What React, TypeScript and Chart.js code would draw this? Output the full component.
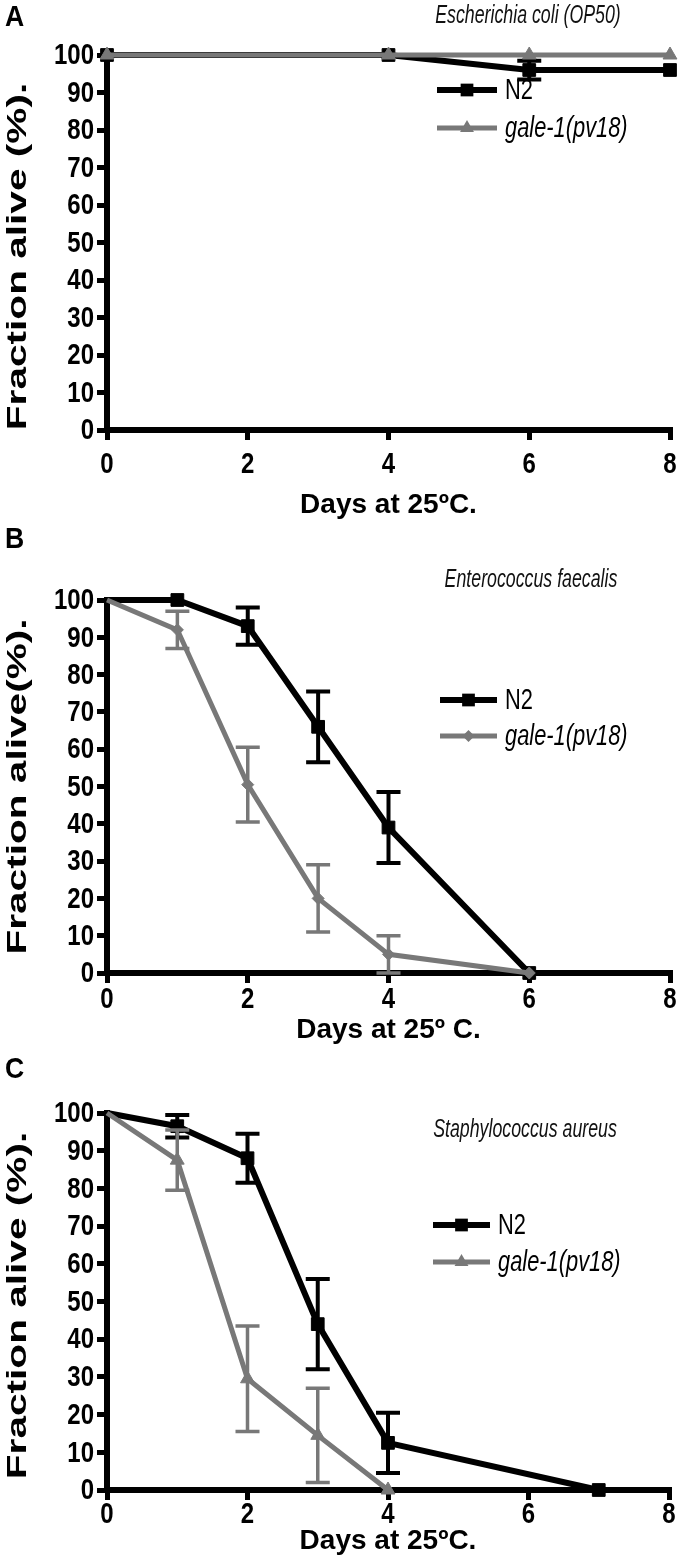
import React, { useEffect, useRef } from "react";
import { Chart, registerables } from "chart.js";

Chart.register(...registerables);

// ---------- shared axis / text ----------
const dayTicksMin = 0;
const dayTicksMax = 8;
const dayTickStep = 2;
const yMin = 0;
const yMax = 100;
const yStep = 10;
const legendLabels = ["N2", "gale-1(pv18)"];

// ---------- Panel A : Escherichia coli (OP50) ----------
const aLetter = "A";
const aTitle = "Escherichia coli (OP50)";
const aXTitle = "Days at 25ºC.";
const aYTitle = "Fraction alive (%).";
const aN2Days = [0, 4, 6, 8];
const aN2 = [100, 100, 96, 96];
const aN2Err = [0, 0, 2.5, 0];
const aGaleDays = [0, 4, 6, 8];
const aGale = [100, 100, 100, 100];
const aGaleErr = [0, 0, 0, 0];

// ---------- Panel B : Enterococcus faecalis ----------
const bLetter = "B";
const bTitle = "Enterococcus faecalis";
const bXTitle = "Days at 25º C.";
const bYTitle = "Fraction alive(%).";
const bN2Days = [0, 1, 2, 3, 4, 6];
const bN2 = [100, 100, 93, 66, 39, 0];
const bN2Err = [0, 0, 5, 9.5, 9.5, 0];
const bGaleDays = [0, 1, 2, 3, 4, 6];
const bGale = [100, 92, 50.5, 20, 5, 0];
const bGaleErr = [0, 5, 10, 9, 5, 0];

// ---------- Panel C : Staphylococcus aureus ----------
const cLetter = "C";
const cTitle = "Staphylococcus aureus";
const cXTitle = "Days at 25ºC.";
const cYTitle = "Fraction alive (%).";
const cN2Days = [0, 1, 2, 3, 4, 7];
const cN2 = [100, 96.5, 88, 44, 12.5, 0];
const cN2Err = [0, 3, 6.5, 12, 8, 0];
const cGaleDays = [0, 1, 2, 3, 4];
const cGale = [100, 87.5, 29.5, 14.5, 0];
const cGaleErr = [0, 8, 14, 12.5, 0];

const FONT = "'Liberation Sans', Arial, Helvetica, sans-serif";
const BLACK = "#000000";
const GRAY = "#787878";

function drawMarker(ctx: CanvasRenderingContext2D, style: string, r: number, x: number, y: number) {
  ctx.beginPath();
  if (style === "rect") {
    const s = Math.SQRT1_2 * r;
    ctx.rect(x - s, y - s, 2 * s, 2 * s);
  } else if (style === "rectRot") {
    ctx.moveTo(x, y - r);
    ctx.lineTo(x + r, y);
    ctx.lineTo(x, y + r);
    ctx.lineTo(x - r, y);
    ctx.closePath();
  } else {
    const h = (r * 3) / Math.sqrt(3);
    ctx.moveTo(x, y - r);
    ctx.lineTo(x + h / 2, y + r / 2);
    ctx.lineTo(x - h / 2, y + r / 2);
    ctx.closePath();
  }
  ctx.fill();
}

// text drawn with an independent horizontal / vertical scale (figure lettering is condensed)
function scaledText(
  ctx: CanvasRenderingContext2D,
  text: string,
  x: number,
  y: number,
  sx: number,
  sy: number,
  align: CanvasTextAlign
) {
  ctx.save();
  ctx.translate(x, y);
  ctx.scale(sx, sy);
  ctx.textAlign = align;
  ctx.textBaseline = "middle";
  ctx.fillText(text, 0, 0);
  ctx.restore();
}

// ---------- plugins ----------
const errorBarPlugin = {
  id: "errorBars",
  afterDatasetDraw(chart: any, args: any) {
    const ds = chart.data.datasets[args.index];
    const errs: number[] | undefined = ds.errors;
    if (!errs) return;
    const xs = chart.scales.x;
    const ys = chart.scales.y;
    const ctx = chart.ctx;
    ctx.save();
    ctx.strokeStyle = ds.borderColor;
    ctx.lineWidth = ds.errorWidth || 3;
    ctx.lineCap = "butt";
    const cap = ds.capHalf || 11;
    ds.data.forEach((p: any, i: number) => {
      const e = errs[i];
      if (!e) return;
      const x = xs.getPixelForValue(p.x);
      const yHi = ys.getPixelForValue(p.y + e);
      const yLo = ys.getPixelForValue(Math.max(p.y - e, yMin));
      ctx.beginPath();
      ctx.moveTo(x, yHi);
      ctx.lineTo(x, yLo);
      ctx.moveTo(x - cap, yHi);
      ctx.lineTo(x + cap, yHi);
      ctx.moveTo(x - cap, yLo);
      ctx.lineTo(x + cap, yLo);
      ctx.stroke();
    });
    ctx.restore();
  },
};

// tick labels from the library's own scale ticks, in tall condensed lettering
const tickLabelPlugin = {
  id: "tickLabels",
  afterDraw(chart: any, _a: any, opts: any) {
    const ctx = chart.ctx;
    const sx = chart.scales.x;
    const sy = chart.scales.y;
    ctx.save();
    ctx.fillStyle = BLACK;
    ctx.font = `bold ${opts.size}px ${FONT}`;
    sx.ticks.forEach((t: any) => {
      const x = sx.getPixelForValue(t.value);
      scaledText(ctx, String(t.label), x, sx.top + opts.xOffset, 1, opts.stretch, "center");
    });
    sy.ticks.forEach((t: any) => {
      const y = sy.getPixelForValue(t.value);
      scaledText(ctx, String(t.label), sy.right - opts.yGap, y + 1, 1, opts.stretch, "right");
    });
    ctx.restore();
  },
};

const decorPlugin = {
  id: "decor",
  afterDraw(chart: any, _a: any, opts: any) {
    const ctx = chart.ctx;
    const area = chart.chartArea;
    ctx.save();
    ctx.fillStyle = BLACK;
    // panel letter
    ctx.font = `bold 28px ${FONT}`;
    scaledText(ctx, opts.letter, opts.letterX, opts.letterY, 0.95, 1.05, "left");
    // species title
    ctx.font = `italic 24px ${FONT}`;
    ctx.fillStyle = "#111";
    scaledText(ctx, opts.title, opts.titleX, opts.titleY, 0.74, 1.05, "center");
    // y-axis title (long lettering, as in the figure)
    ctx.save();
    ctx.fillStyle = BLACK;
    ctx.translate(opts.yTitleX, (area.top + area.bottom) / 2 + opts.yTitleShift);
    ctx.rotate(-Math.PI / 2);
    ctx.scale(opts.yTitleStretch, 1);
    ctx.font = `bold 28px ${FONT}`;
    ctx.textAlign = "center";
    ctx.textBaseline = "middle";
    ctx.fillText(opts.yTitle, 0, 0);
    ctx.restore();
    // legend
    const L = opts.legend;
    chart.data.datasets.forEach((ds: any, i: number) => {
      const y = L.y + i * L.gap;
      ctx.strokeStyle = ds.borderColor;
      ctx.lineWidth = ds.borderWidth;
      ctx.beginPath();
      ctx.moveTo(L.x0, y);
      ctx.lineTo(L.x1, y);
      ctx.stroke();
      const r = Array.isArray(ds.pointRadius) ? ds.pointRadius[ds.pointRadius.length - 1] : ds.pointRadius;
      ctx.fillStyle = ds.borderColor;
      drawMarker(ctx, ds.pointStyle, r, (L.x0 + L.x1) / 2, y);
      ctx.fillStyle = "#000";
      ctx.font = `${i === 0 ? "" : "italic "}28px ${FONT}`;
      scaledText(ctx, ds.label, L.x1 + 8, y + 1, 0.78, 1.05, "left");
    });
    ctx.restore();
  },
};

function pts(xs: number[], ys: number[]) {
  return xs.map((x, i) => ({ x, y: ys[i] }));
}

function radii(xs: number[], r: number, hideFirst: boolean) {
  return xs.map((_x, i) => (hideFirst && i === 0 ? 0 : r));
}

type PanelCfg = {
  letter: string;
  title: string;
  xTitle: string;
  yTitle: string;
  n2Days: number[];
  n2: number[];
  n2Err: number[];
  galeDays: number[];
  gale: number[];
  galeErr: number[];
  galeStyle: string;
  galeRadius: number;
  hideFirst: boolean;
  top: number;
  height: number;
  padTop: number;
  padBottom: number;
  padRight: number;
  xAxisH: number;
  xLabelOffset: number;
  letterY: number;
  titleX: number;
  titleY: number;
  yTitleShift: number;
  legend: { x0: number; x1: number; y: number; gap: number };
};

function buildConfig(c: PanelCfg): any {
  const titleFont = { family: FONT, size: 28, weight: "bold" as const, lineHeight: 1 };
  const grid = {
    drawOnChartArea: false,
    drawTicks: true,
    tickLength: 10,
    lineWidth: 5,
    color: BLACK,
    tickColor: BLACK,
  };
  return {
    type: "line",
    data: {
      datasets: [
        {
          label: legendLabels[0],
          data: pts(c.n2Days, c.n2),
          errors: c.n2Err,
          borderColor: BLACK,
          backgroundColor: BLACK,
          pointBackgroundColor: BLACK,
          pointBorderColor: BLACK,
          borderWidth: 6,
          pointStyle: "rect",
          pointRadius: radii(c.n2Days, 9, c.hideFirst),
          pointBorderWidth: 1,
          errorWidth: 4,
          capHalf: 12,
          clip: false,
          order: 1,
          tension: 0,
        },
        {
          label: legendLabels[1],
          data: pts(c.galeDays, c.gale),
          errors: c.galeErr,
          borderColor: GRAY,
          backgroundColor: GRAY,
          pointBackgroundColor: GRAY,
          pointBorderColor: GRAY,
          borderWidth: 5,
          pointStyle: c.galeStyle,
          pointRadius: radii(c.galeDays, c.galeRadius, c.hideFirst),
          pointBorderWidth: 1,
          errorWidth: 3.5,
          capHalf: 12,
          clip: false,
          order: 0,
          tension: 0,
        },
      ],
    },
    options: {
      animation: false,
      responsive: true,
      maintainAspectRatio: false,
      layout: { padding: { top: c.padTop, right: c.padRight, bottom: c.padBottom, left: 0 } },
      plugins: {
        legend: { display: false },
        tooltip: { enabled: false },
        tickLabels: { size: 24, stretch: 1.25, xOffset: c.xLabelOffset, yGap: 13 },
        decor: {
          letter: c.letter,
          letterX: 5,
          letterY: c.letterY,
          title: c.title,
          titleX: c.titleX,
          titleY: c.titleY,
          yTitle: c.yTitle,
          yTitleX: 18,
          yTitleShift: c.yTitleShift,
          yTitleStretch: 1.45,
          legend: c.legend,
        },
      },
      scales: {
        x: {
          type: "linear",
          min: dayTicksMin,
          max: dayTicksMax,
          ticks: { stepSize: dayTickStep, display: false },
          grid,
          border: { display: true, width: 6, color: BLACK },
          title: { display: true, text: c.xTitle, font: titleFont, color: BLACK, padding: 0 },
          afterFit: (s: any) => {
            s.height = c.xAxisH;
          },
        },
        y: {
          type: "linear",
          min: yMin,
          max: yMax,
          ticks: { stepSize: yStep, display: false },
          grid,
          border: { display: true, width: 6, color: BLACK },
          title: { display: false, text: c.yTitle },
          afterFit: (s: any) => {
            s.width = 107;
          },
        },
      },
    },
    plugins: [errorBarPlugin, tickLabelPlugin, decorPlugin],
  };
}

const panelA: PanelCfg = {
  letter: aLetter, title: aTitle, xTitle: aXTitle, yTitle: aYTitle,
  n2Days: aN2Days, n2: aN2, n2Err: aN2Err,
  galeDays: aGaleDays, gale: aGale, galeErr: aGaleErr,
  galeStyle: "triangle", galeRadius: 8, hideFirst: false,
  top: 0, height: 525, padTop: 55, padBottom: 6, padRight: 8, xAxisH: 89, xLabelOffset: 35,
  letterY: 18, titleX: 528, titleY: 16, yTitleShift: 14,
  legend: { x0: 437, x1: 497, y: 90, gap: 38 },
};

const panelB: PanelCfg = {
  letter: bLetter, title: bTitle, xTitle: bXTitle, yTitle: bYTitle,
  n2Days: bN2Days, n2: bN2, n2Err: bN2Err,
  galeDays: bGaleDays, gale: bGale, galeErr: bGaleErr,
  galeStyle: "rectRot", galeRadius: 6, hideFirst: true,
  top: 525, height: 525, padTop: 75, padBottom: 6, padRight: 10, xAxisH: 71, xLabelOffset: 27,
  letterY: 15, titleX: 531, titleY: 55, yTitleShift: 0,
  legend: { x0: 440, x1: 497, y: 175, gap: 36 },
};

const panelC: PanelCfg = {
  letter: cLetter, title: cTitle, xTitle: cXTitle, yTitle: cYTitle,
  n2Days: cN2Days, n2: cN2, n2Err: cN2Err,
  galeDays: cGaleDays, gale: cGale, galeErr: cGaleErr,
  galeStyle: "triangle", galeRadius: 8, hideFirst: true,
  top: 1050, height: 505, padTop: 63, padBottom: 0, padRight: 11, xAxisH: 65, xLabelOffset: 25,
  letterY: 20, titleX: 525, titleY: 80, yTitleShift: 4,
  legend: { x0: 433, x1: 490, y: 175, gap: 37 },
};

function Panel({ cfg }: { cfg: PanelCfg }) {
  const ref = useRef<HTMLCanvasElement>(null);
  useEffect(() => {
    const chart = new Chart(ref.current as HTMLCanvasElement, buildConfig(cfg));
    return () => chart.destroy();
  }, [cfg]);
  return (
    <div style={{ position: "absolute", left: 0, top: cfg.top, width: 680, height: cfg.height }}>
      <canvas ref={ref} />
    </div>
  );
}

export default function App() {
  return (
    <div style={{ position: "absolute", left: 0, top: 0, width: 680, height: 1555, background: "#fff" }}>
      <Panel cfg={panelA} />
      <Panel cfg={panelB} />
      <Panel cfg={panelC} />
    </div>
  );
}
